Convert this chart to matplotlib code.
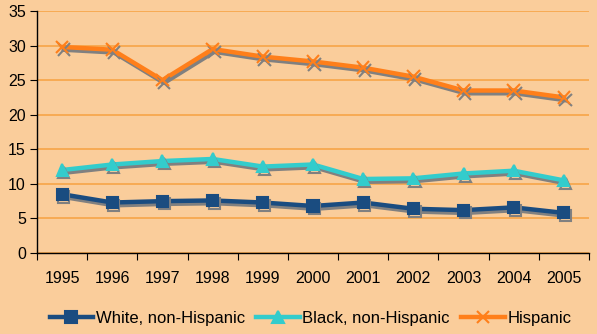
import numpy as np
import matplotlib.pyplot as plt
import matplotlib.patheffects as pe
from matplotlib.lines import Line2D

plt.rcParams['font.family'] = ['Liberation Sans', 'DejaVu Sans']

years = ['1995', '1996', '1997', '1998', '1999', '2000', '2001', '2002', '2003', '2004', '2005']
white = [8.5, 7.3, 7.5, 7.6, 7.3, 6.8, 7.3, 6.4, 6.2, 6.6, 5.8]
black = [12.0, 12.8, 13.3, 13.6, 12.5, 12.8, 10.7, 10.8, 11.5, 11.9, 10.5]
hispanic = [29.8, 29.4, 25.0, 29.5, 28.4, 27.7, 26.8, 25.5, 23.5, 23.5, 22.5]

bg = '#FACD9B'
grid_c = '#F7A548'

fig = plt.figure(figsize=(5.97, 3.34), dpi=100, facecolor=bg)
ax = fig.add_axes([37/597, 1-253/334, (589-37)/597, (253-11)/334], facecolor=bg)

x = np.arange(len(years))
shadow = [pe.SimpleLineShadow(offset=(1.2, -2.0), shadow_color='#808080', alpha=1.0), pe.Normal()]

series = [
    (white, '#1A4C80', 's', 8, 'White, non-Hispanic'),
    (black, '#33CCCC', '^', 8, 'Black, non-Hispanic'),
    (hispanic, '#FF7F1A', 'x', 9, 'Hispanic'),
]
handles = []
for vals, col, mk, ms, lab in series:
    ax.plot(x, vals, color=col, lw=3.2, marker=mk, ms=ms, mew=1.5,
            path_effects=shadow, zorder=3)
    handles.append(Line2D([], [], color=col, lw=3.2, marker=mk, ms=ms, mew=1.5, label=lab))

ax.set_xlim(-0.5, len(years) - 0.5)
ax.set_ylim(0, 35)
ax.set_yticks(np.arange(0, 36, 5))
ax.yaxis.grid(True, color=grid_c, lw=1.2)
ax.set_axisbelow(True)

ax.set_xticks(np.arange(-0.5, len(years), 1.0))
ax.set_xticklabels([])
ax.set_xticks(x, minor=True)
ax.set_xticklabels(years, minor=True)
ax.tick_params(axis='x', which='major', length=5, direction='out', color='black')
ax.tick_params(axis='x', which='minor', length=0, pad=13, labelsize=11.5)
ax.tick_params(axis='y', length=5, labelsize=11.5, pad=3)

for s in ['top', 'right']:
    ax.spines[s].set_visible(False)
for s in ['left', 'bottom']:
    ax.spines[s].set_color('black')
    ax.spines[s].set_linewidth(1.0)

fig.legend(handles=handles, loc='center', bbox_to_anchor=(0.52, 1-318/334), ncol=3, frameon=False,
           fontsize=12, handlelength=2.6, handletextpad=0.15, columnspacing=0.7)

fig.savefig('out.png', dpi=100, facecolor=bg)
